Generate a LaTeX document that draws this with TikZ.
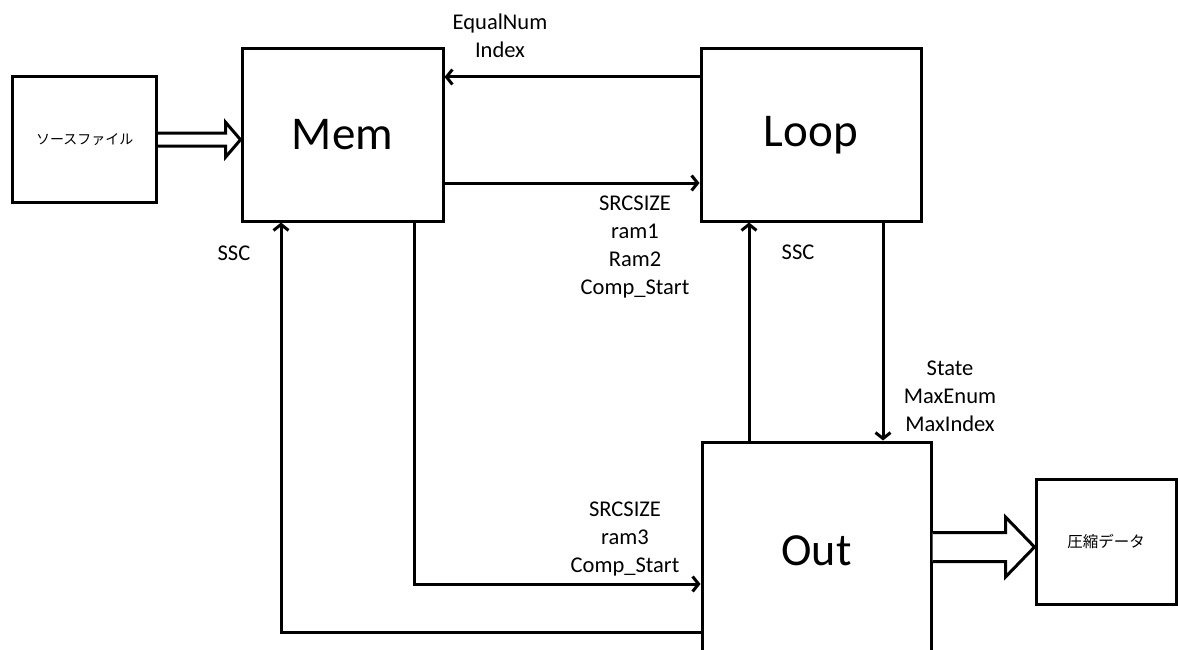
\documentclass[tikz,border=0pt]{standalone}
\usepackage{fontspec}
\setmainfont{Carlito}
\newfontfamily\jpfont{Noto Sans CJK JP}
\usetikzlibrary{arrows.meta,positioning,calc}

\begin{document}
\begin{tikzpicture}[x=1pt, y=-1pt, line width=3pt,
  block/.style={draw, line width=3pt, inner sep=0pt},
  lbl/.style={font=\fontsize{22.5}{28}\selectfont, align=center, inner sep=0pt},
  sig/.style={-{Straight Barb[length=6pt,width=15pt]}, line width=3pt},
  hollow/.style={draw, line width=3pt, line join=miter, fill=white}]

  \useasboundingbox (0,0) rectangle (1178,650);

  % blocks
  \node[block, minimum width=144pt, minimum height=126pt] (src) at (84.7,139.7)
    {\jpfont\fontsize{14}{14}\selectfont ソースファイル};
  \node[block, minimum width=201pt, minimum height=172pt, font=\fontsize{47}{47}\selectfont] (mem) at (342.5,135) {Mem};
  \node[block, minimum width=220pt, minimum height=172pt, font=\fontsize{47}{47}\selectfont] (loop) at (811,135) {Loop};
  \node[block, minimum width=229pt, minimum height=218pt, font=\fontsize{46}{46}\selectfont] (out) at (816.5,551) {Out};
  \node[block, minimum width=140pt, minimum height=125pt] (data) at (1106,541.5)
    {\jpfont\fontsize{15.5}{15.5}\selectfont 圧縮データ};

  % signals
  \draw[sig] ([yshift=58pt]loop.west) -- ([yshift=58pt]mem.east);
  \draw[sig] ([yshift=-48pt]mem.east) -- ([yshift=-48pt]loop.west);
  \draw[sig] ([xshift=-67.5pt]out.north) -- ([xshift=-62pt]loop.south);
  \draw[sig] ([xshift=72pt]loop.south) -- ([xshift=66.5pt]out.north);
  \draw[sig] ([xshift=71.5pt]mem.south) |- ([yshift=-33pt]out.west);
  \draw[sig] ([yshift=-81pt]out.west) -| ([xshift=-61.5pt]mem.south);

  % file in / data out
  \coordinate (tipA) at (mem.west |- src.east);
  \draw[hollow] ([yshift=6.5pt]src.east) -- ([xshift=-15pt,yshift=6.5pt]tipA)
    -- ([xshift=-15pt,yshift=17.5pt]tipA) -- (tipA)
    -- ([xshift=-15pt,yshift=-17.5pt]tipA) -- ([xshift=-15pt,yshift=-6.5pt]tipA)
    -- ([yshift=-6.5pt]src.east);
  \coordinate (tipB) at ([yshift=-5.5pt]data.west);
  \coordinate (baseB) at (out.east |- tipB);
  \draw[hollow] ([yshift=14.5pt]baseB) -- ([xshift=-29pt,yshift=14.5pt]tipB)
    -- ([xshift=-29pt,yshift=30pt]tipB) -- (tipB)
    -- ([xshift=-29pt,yshift=-30pt]tipB) -- ([xshift=-29pt,yshift=-14.5pt]tipB)
    -- ([yshift=-14.5pt]baseB);

  % labels
  \node[lbl] (eqlbl) at (500,36) {EqualNum\\Index};
  \node[lbl] (ramlbl) at (635,247) {SRCSIZE\\ram1\\Ram2\\Comp\_Start};
  \node[lbl] (outlbl) at (625,539) {SRCSIZE\\ram3\\Comp\_Start};
  \node[lbl] (stlbl) at (950,396) {State\\MaxEnum\\MaxIndex};
  \node[lbl] (ssclbl) at (798,252) {SSC};
  \node[lbl] (ssclblb) at (234,253) {SSC};
\end{tikzpicture}
\end{document}
